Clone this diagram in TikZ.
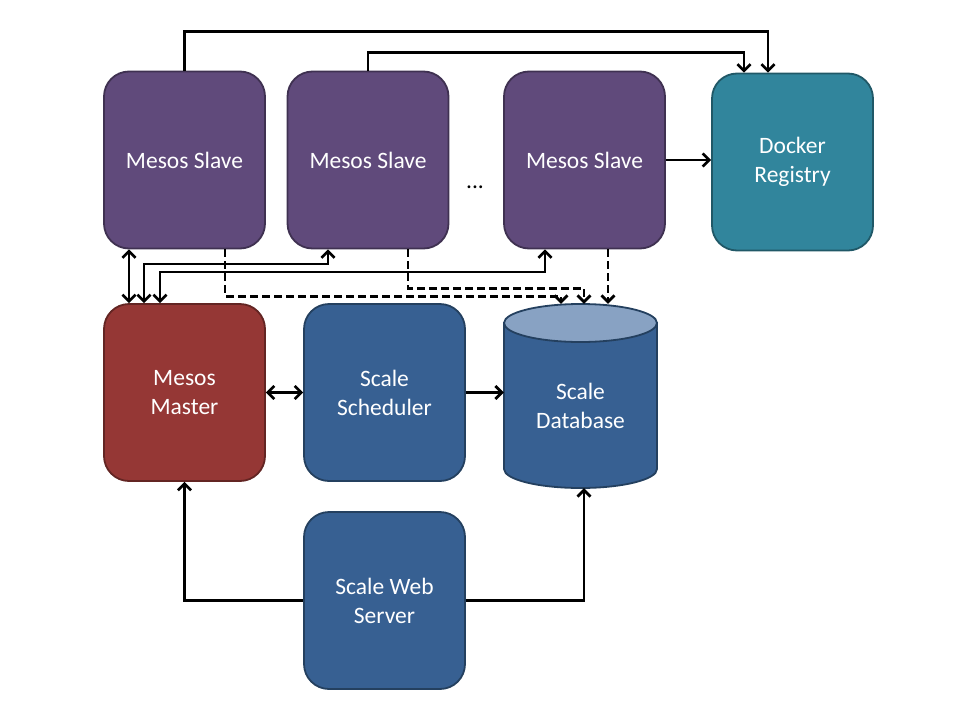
\documentclass[tikz,border=0pt]{standalone}
\usepackage{fontspec}
\setmainfont{Carlito}
\usetikzlibrary{arrows.meta,calc}
\definecolor{purp}{HTML}{604A7B}
\definecolor{purpd}{HTML}{3F3151}
\definecolor{redf}{HTML}{953735}
\definecolor{redd}{HTML}{632523}
\definecolor{bluef}{HTML}{376092}
\definecolor{blued}{HTML}{24405F}
\definecolor{bluel}{HTML}{88A2C3}
\definecolor{tealf}{HTML}{31859C}
\definecolor{teald}{HTML}{205867}
\tikzset{
  box/.style={rounded corners=25pt, minimum width=161pt, minimum height=177pt, line width=1.8pt,
    text=white, align=center, font=\fontsize{23.5}{29}\selectfont, inner sep=0pt},
  slavebox/.style={box, fill=purp, draw=purpd},
  masterbox/.style={box, fill=redf, draw=redd},
  bluebox/.style={box, fill=bluef, draw=blued},
  dockerbox/.style={box, fill=tealf, draw=teald},
  tip/.tip={Straight Barb[length=6.5pt,width=13pt]},
  conn/.style={line width=2.7pt, -tip},
  biconn/.style={line width=2.7pt, tip-tip},
  dconn/.style={conn, dash pattern=on 8pt off 4pt},
}
\begin{document}
\begin{tikzpicture}[x=1pt,y=-1pt]
\useasboundingbox (0,0) rectangle (960,720);
% nodes
\node[slavebox] (s1) at (184.5,160) {Mesos Slave};
\node[slavebox] (s2) at (368,160) {Mesos Slave};
\node[slavebox] (s3) at (584.5,160) {Mesos Slave};
\node[dockerbox] (dk) at (792.5,162) {Docker\\Registry};
\node[masterbox] (m) at (184.5,392.5) {Mesos\\Master};
\node[bluebox] (sc) at (384.5,392.5) {Scale\\Scheduler};
\node[bluebox] (w) at (384.5,600.5) {Scale Web\\Server};
\node[font=\fontsize{23.5}{29}\selectfont] (dots) at (475,187) {...};
% database cylinder
\filldraw[fill=bluef, draw=blued, line width=1.8pt]
  (504,323) -- (504,469) arc[start angle=180, end angle=0, x radius=76.5, y radius=19] -- (657,323) -- cycle;
\filldraw[fill=bluel, draw=blued, line width=1.8pt] (580.5,323) ellipse [x radius=76.5, y radius=19];
\node[minimum width=153pt, minimum height=184pt, inner sep=0pt] (db) at (580.5,396) {};
\node[text=white, align=center, font=\fontsize{23.5}{29}\selectfont, inner sep=0pt] (dbl) at (580.5,406) {Scale\\Database};
% connectors
\draw[conn] (s1.north) -- ++(0,-39) -| ([xshift=-24.5pt]dk.north);
\draw[conn] (s2.north) -- ++(0,-18) -| ([xshift=-48.5pt]dk.north);
\draw[conn] (s3.east) -- (s3.east -| dk.west);
\draw[biconn] ([xshift=-55.5pt]m.north) -- ([xshift=-55.5pt]s1.south);
\draw[biconn] ([xshift=-40.5pt]m.north) -- ++(0,-39) -| ([xshift=-40pt]s2.south);
\draw[biconn] ([xshift=-24.5pt]m.north) -- ++(0,-31) -| ([xshift=-39.5pt]s3.south);
\draw[dconn] ([xshift=40.5pt]s1.south) -- ++(0,47) -| ([xshift=-19.5pt]db.north);
\draw[dconn] ([xshift=40pt]s2.south) -- ++(0,39) -| ([xshift=3.5pt]db.north);
\draw[dconn] ([xshift=23.5pt]s3.south) -- ([xshift=23.5pt]s3.south |- db.north);
\draw[biconn] (m.east) -- (sc.west);
\draw[conn] (sc.east) -- (sc.east -| db.west);
\draw[conn] (w.west) -| (m.south);
\draw[conn] (w.east) -| ([xshift=3.5pt]db.south);
\end{tikzpicture}
\end{document}
